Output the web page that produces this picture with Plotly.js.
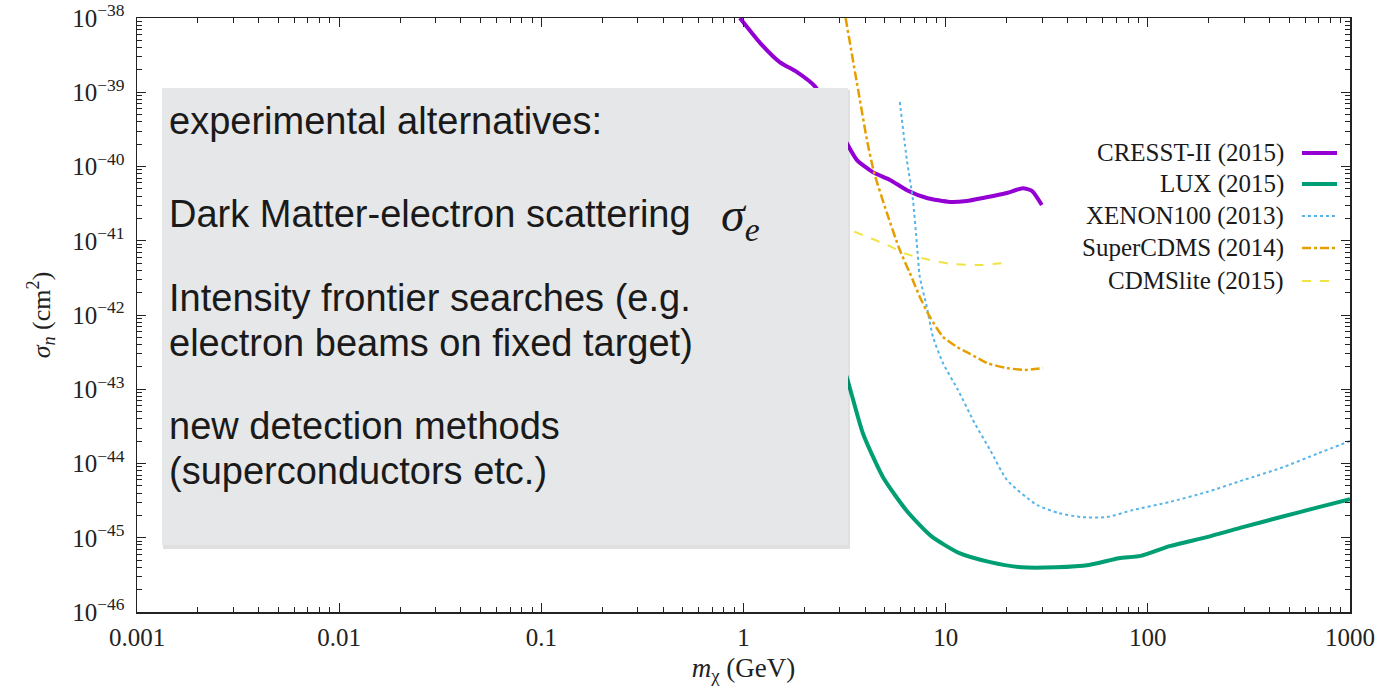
<!DOCTYPE html>
<html><head><meta charset="utf-8">
<script src="https://cdn.plot.ly/plotly-3.0.1.min.js"></script>
<style>html,body{margin:0;padding:0;background:#fff}#chart{width:1382px;height:687px}</style>
</head><body><div id="chart"></div>
<script>
// ---- data (x: GeV, y: cm^2) ----
const cresstX = [0.96, 1.21, 1.51, 1.84, 2.25, 2.67, 3.24, 3.64, 4.36, 5.30, 6.43, 8.07, 10.5, 12.7, 15.3, 20.1, 24.1, 26.7, 29.9];
const cresstY = [1.0e-38, 4.6e-39, 2.55e-39, 1.87e-39, 1.21e-39, 5.7e-40, 2.07e-40, 1.22e-40, 8.4e-41, 6.6e-41, 4.8e-41, 3.77e-41, 3.33e-41, 3.43e-41, 3.77e-41, 4.4e-41, 5.1e-41, 4.7e-41, 3.03e-41];

const luxX = [3.0, 3.24, 3.89, 4.89, 6.43, 8.45, 11.7, 16.6, 23.8, 35.1, 51.1, 71.9, 92.3, 128, 196, 298, 455, 701, 1000];
const luxY = [2.6e-43, 1.46e-43, 2.58e-44, 6.6e-45, 2.29e-45, 1.06e-45, 6.2e-46, 4.7e-46, 4.0e-46, 4.0e-46, 4.3e-46, 5.3e-46, 5.7e-46, 7.7e-46, 1.02e-45, 1.40e-45, 1.90e-45, 2.59e-45, 3.3e-45];

const xenonX = [5.93, 6.43, 6.89, 7.21, 7.45, 8.07, 8.65, 9.69, 11.5, 13.9, 16.6, 20.1, 28.3, 36.3, 46.6, 62.7, 84.3, 128, 196, 298, 455, 701, 1000];
const xenonY = [7.4e-40, 1.22e-40, 3.54e-41, 8.8e-42, 3.25e-42, 1.28e-42, 5.1e-43, 2.26e-43, 9.8e-44, 3.5e-44, 1.52e-44, 6.0e-45, 2.76e-45, 2.15e-45, 1.90e-45, 1.90e-45, 2.36e-45, 3.03e-45, 4.13e-45, 6.0e-45, 8.7e-45, 1.38e-44, 2.01e-44];

const scdmsX = [3.2, 3.64, 4.08, 4.42, 5.12, 5.93, 6.65, 7.45, 8.36, 9.69, 11.4, 13.2, 16.0, 20.1, 24.6, 30.3];
const scdmsY = [1.0e-38, 1.33e-39, 2.28e-40, 8.4e-41, 2.37e-41, 7.5e-42, 3.68e-42, 1.75e-42, 9.4e-43, 5.1e-43, 3.7e-43, 3.0e-43, 2.26e-43, 1.93e-43, 1.82e-43, 1.93e-43];

const cdmsliteX = [2.4, 3.28, 3.89, 5.12, 6.43, 8.36, 10.5, 13.9, 19.2];
const cdmsliteY = [1.9e-41, 1.44e-41, 1.19e-41, 8.8e-42, 6.6e-42, 5.5e-42, 4.9e-42, 4.7e-42, 5.0e-42];

const seriesNames = ['CRESST-II (2015)', 'LUX (2015)', 'XENON100 (2013)', 'SuperCDMS (2014)', 'CDMSlite (2015)'];

const xTickVals = [0.001, 0.01, 0.1, 1, 10, 100, 1000];
const xTickText = ['0.001', '0.01', '0.1', '1', '10', '100', '1000'];
const yTickVals = [1e-46, 1e-45, 1e-44, 1e-43, 1e-42, 1e-41, 1e-40, 1e-39, 1e-38];
const yTickText = ['10<sup>−46</sup>', '10<sup>−45</sup>', '10<sup>−44</sup>', '10<sup>−43</sup>', '10<sup>−42</sup>', '10<sup>−41</sup>', '10<sup>−40</sup>', '10<sup>−39</sup>', '10<sup>−38</sup>'];

const boxLines = ['experimental alternatives:', 'Dark Matter-electron scattering', 'Intensity frontier searches (e.g.', 'electron beams on fixed target)', 'new detection methods', '(superconductors etc.)'];

// ---- styles ----
const styles = [
  {color: '#9400d3', width: 4, dash: 'solid'},
  {color: '#009e73', width: 4, dash: 'solid'},
  {color: '#56b4e9', width: 2, dash: 'dot'},
  {color: '#e69f00', width: 2.5, dash: 'dashdot'},
  {color: '#f0e442', width: 2, dash: 'dash'}
];
const xs = [cresstX, luxX, xenonX, scdmsX, cdmsliteX];
const ys = [cresstY, luxY, xenonY, scdmsY, cdmsliteY];

const traces = xs.map((x, i) => ({
  x: x, y: ys[i], type: 'scatter', mode: 'lines', name: seriesNames[i],
  line: {color: styles[i].color, width: styles[i].width, dash: styles[i].dash, shape: 'spline', smoothing: 0.6},
  showlegend: false, hoverinfo: 'skip'
}));

const serif = 'Liberation Serif, DejaVu Serif, serif';
const sans = 'Liberation Sans, Arial, sans-serif';

// plot area in pixels: left 137, right 1350, top 18, bottom 612
const W = 1213, H = 594, L = 137, B = 612;
const px = v => (v - L) / W;
const py = v => (B - v) / H;

const shapes = [
  {type: 'rect', xref: 'paper', yref: 'paper', x0: px(163), x1: px(850), y0: py(549), y1: py(90),
   fillcolor: 'rgba(0,0,0,0.12)', line: {width: 0}, layer: 'above'},
  {type: 'rect', xref: 'paper', yref: 'paper', x0: px(162), x1: px(848), y0: py(545), y1: py(88),
   fillcolor: '#e6e7e8', line: {width: 0}, layer: 'above'}
];

const annotations = [];
const lineYs = [121, 214, 298, 343, 426, 471];
boxLines.forEach((t, i) => annotations.push({
  xref: 'paper', yref: 'paper', x: px(167), y: py(lineYs[i]), xanchor: 'left', yanchor: 'middle',
  text: t, showarrow: false, font: {family: sans, size: 38, color: '#1a1a1a'}
}));
annotations.push({xref: 'paper', yref: 'paper', x: px(719), y: py(218), xanchor: 'left', yanchor: 'middle',
  text: '<i>σ<sub>e</sub></i>', showarrow: false, font: {family: serif, size: 48, color: '#1a1a1a'}});

const legYs = [153, 184, 216, 248, 281];
seriesNames.forEach((n, i) => {
  annotations.push({xref: 'paper', yref: 'paper', x: px(1286), y: py(legYs[i]), xanchor: 'right', yanchor: 'middle',
    text: n, showarrow: false, font: {family: serif, size: 25, color: '#1a1a1a'}});
  shapes.push({type: 'line', xref: 'paper', yref: 'paper', x0: px(1302), x1: px(1337), y0: py(legYs[i]), y1: py(legYs[i]),
    line: {color: styles[i].color, width: styles[i].width, dash: styles[i].dash}});
});

const axisCommon = {
  type: 'log', showgrid: false, zeroline: false, showline: true, linecolor: '#222', linewidth: 1.5,
  mirror: 'allticks', ticks: 'inside', ticklen: 9, tickwidth: 1, tickcolor: '#222',
  tickmode: 'array', tickfont: {family: serif, size: 25, color: '#222'},
  minor: {ticks: 'inside', ticklen: 5, tickwidth: 1, tickcolor: '#222', dtick: 'D1', showgrid: false}
};

const layout = {
  width: 1382, height: 687,
  margin: {l: 137, r: 32, t: 18, b: 75},
  paper_bgcolor: '#fff', plot_bgcolor: '#fff',
  showlegend: false,
  xaxis: Object.assign({}, axisCommon, {
    range: [-3, 3], tickvals: xTickVals, ticktext: xTickText, ticklabelstandoff: 2,
    title: {text: '<i>m</i><sub>χ</sub> (GeV)', font: {family: serif, size: 27, color: '#222'}, standoff: 8}
  }),
  yaxis: Object.assign({}, axisCommon, {
    range: [-46, -38], tickvals: yTickVals, ticktext: yTickText, ticklabelstandoff: 6,
    title: {text: '<i>σ<sub>n</sub></i> (cm<sup>2</sup>)', font: {family: serif, size: 26, color: '#222'}, standoff: 14}
  }),
  shapes: shapes, annotations: annotations
};

Plotly.newPlot('chart', traces, layout, {displayModeBar: false, staticPlot: true});
</script>
</body></html>
